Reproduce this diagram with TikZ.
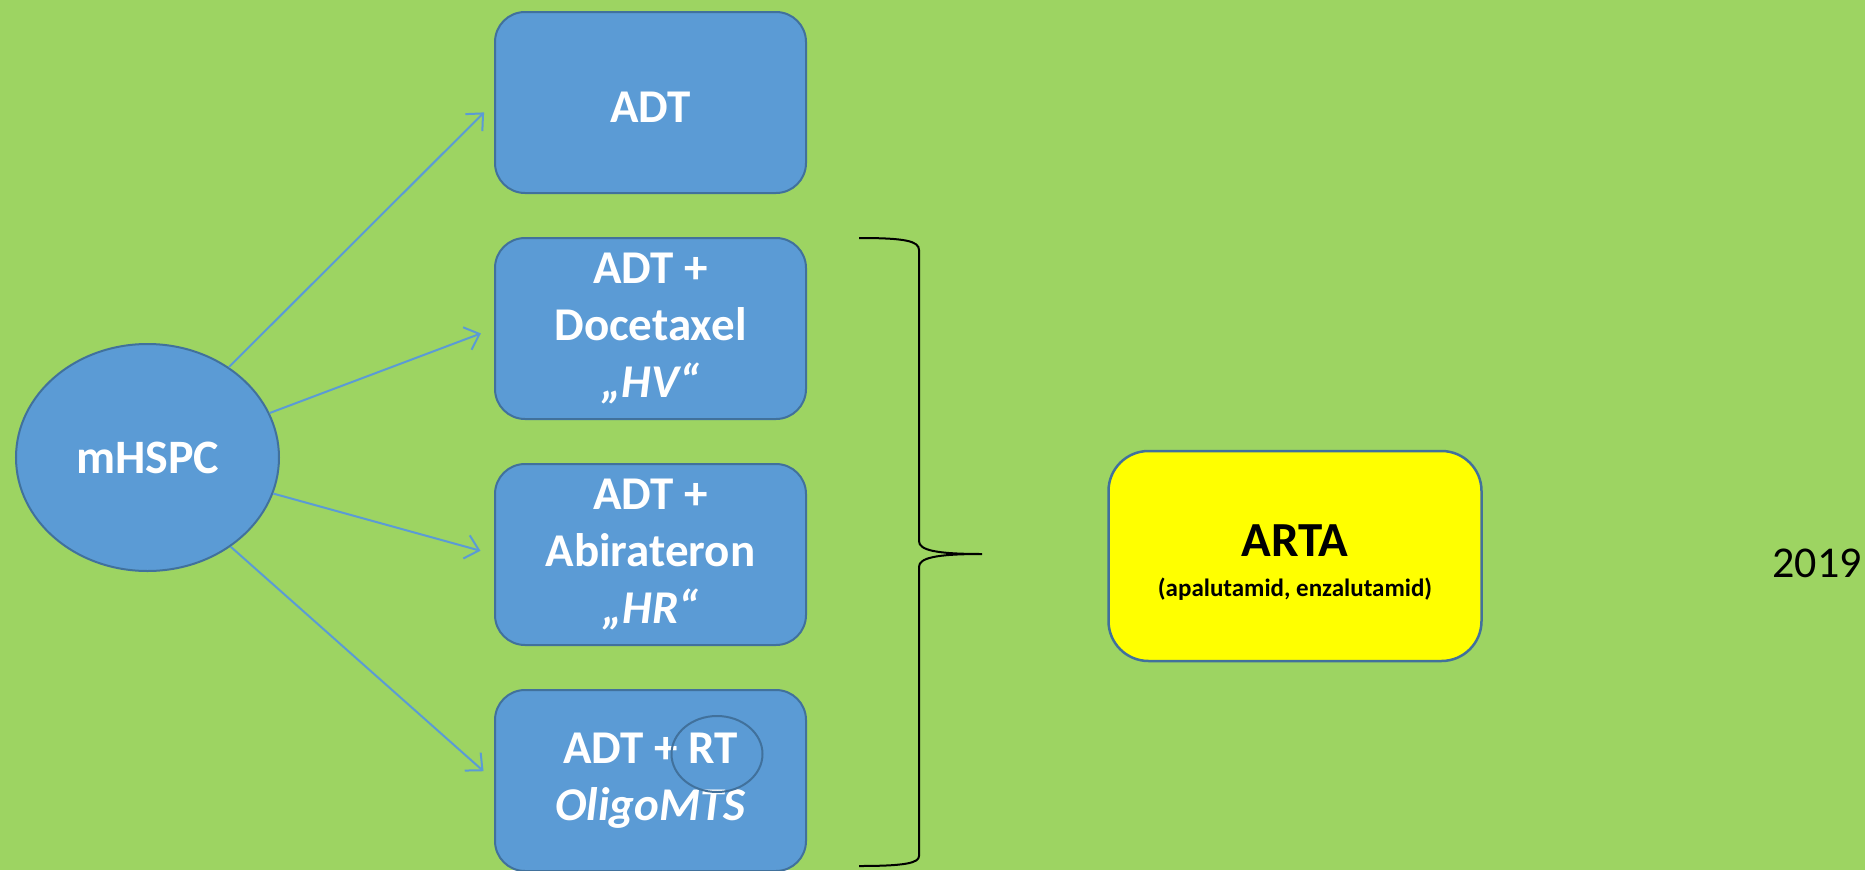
\documentclass[tikz,border=0pt]{standalone}
\usepackage{fontspec}
\setmainfont{Carlito}
\usepackage{tikz}
\usetikzlibrary{shapes.geometric, arrows.meta, positioning}
\definecolor{bggreen}{RGB}{157,212,98}
\definecolor{boxblue}{RGB}{91,155,213}
\definecolor{edgeblue}{RGB}{65,113,156}
\definecolor{artayellow}{RGB}{255,255,0}
\tikzstyle{block} = [rectangle, rounded corners=30pt, minimum width=311pt, minimum height=181pt, align=center, inner sep=2mm, draw=edgeblue, line width=2pt, fill=boxblue, text=white, font=\fontsize{47}{57}\selectfont\bfseries, execute at begin node={\rule{0pt}{40pt}}]
\tikzstyle{origin} = [ellipse, minimum width=263pt, minimum height=227pt, inner sep=0pt, draw=edgeblue, line width=2pt, fill=boxblue, text=white, font=\fontsize{48}{57}\selectfont\bfseries]
\tikzstyle{result} = [rectangle, rounded corners=40pt, minimum width=373pt, minimum height=210pt, align=center, draw=edgeblue, line width=2.5pt, fill=artayellow, font=\fontsize{25}{40}\selectfont\bfseries]
\tikzstyle{arrow} = [line width=2pt, draw=boxblue, -{Straight Barb[length=13pt, width=24pt]}, shorten >=14pt]
\tikzstyle{brace} = [line width=2pt, draw=black]

\begin{document}
\begin{tikzpicture}[x=1pt, y=-1pt, node distance=43pt]
  \fill[bggreen] (0,0) rectangle (1865,870);
  \useasboundingbox (0,0) rectangle (1865,870);

  \node[origin] (m) at (147.5,457.5) {mHSPC};
  \node[block] (b1) at (650.5,102.5) {ADT};
  \node[block, below=of b1] (b2) {ADT +\\Docetaxel\\\textit{„HV“}};
  \node[block, below=of b2] (b3) {ADT +\\Abirateron\\\textit{„HR“}};
  \node[block, below=of b3] (b4) {ADT + RT\\\textit{OligoMTS}};
  \node[ellipse, draw=edgeblue, line width=2pt, minimum width=91pt, minimum height=76pt] (rt) at (717,754) {};

  \node[result] (arta) at (1295,556) {{\fontsize{49}{40}\selectfont\rule{0pt}{45pt}ARTA}\\(apalutamid, enzalutamid)};
  \node[font=\fontsize{44}{44}\selectfont] (year) at (1817,563) {2019};

  \draw[arrow] (m.48) -- (b1.west);
  \draw[arrow] (m.20) -- (b2.west);
  \draw[arrow] (m.-16) -- (b3.west);
  \draw[arrow] (m.-47) -- (b4.west);

  % right brace over the three combination boxes
  \draw[brace] (859,238) .. controls (905,238) and (919,241) .. (919,250)
    -- (919,541) .. controls (919,550) and (935,554) .. (982,554)
    .. controls (935,554) and (919,558) .. (919,567)
    -- (919,856) .. controls (919,863) and (905,866) .. (859,866);
\end{tikzpicture}
\end{document}
